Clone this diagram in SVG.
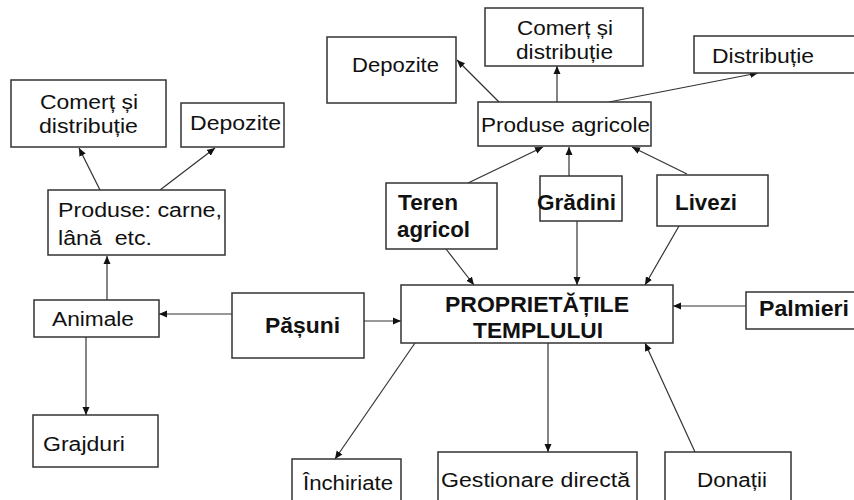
<svg xmlns="http://www.w3.org/2000/svg" width="854" height="500" viewBox="0 0 854 500">
<style>
.b{fill:#fff;stroke:#333;stroke-width:1.5}
.t{font-family:"Liberation Sans",Arial,sans-serif;font-size:20px;fill:#111}
.tb{font-family:"Liberation Sans",Arial,sans-serif;font-size:21.5px;font-weight:bold;fill:#111}
.c line{stroke:#333;stroke-width:1.2;fill:none;marker-end:url(#a)}
</style>
<defs>
<marker id="a" markerUnits="userSpaceOnUse" markerWidth="9" markerHeight="8" refX="8" refY="4" orient="auto">
<path d="M0,0.5 L8,4 L0,7.5 Z" fill="#111"/>
</marker>
</defs>
<rect width="854" height="500" fill="#fff"/>
<g class="c">
<line x1="100" y1="190" x2="79" y2="148"/>
<line x1="160" y1="190" x2="215" y2="148"/>
<line x1="107" y1="300" x2="107" y2="256"/>
<line x1="86" y1="337" x2="86" y2="415"/>
<line x1="232" y1="314" x2="159" y2="314"/>
<line x1="364" y1="321" x2="401" y2="321"/>
<line x1="446" y1="249" x2="474" y2="285"/>
<line x1="577" y1="221" x2="577" y2="285"/>
<line x1="679" y1="226" x2="645" y2="285"/>
<line x1="746" y1="306" x2="673" y2="306"/>
<line x1="468" y1="183" x2="543" y2="147"/>
<line x1="569" y1="176" x2="569" y2="147"/>
<line x1="687" y1="174" x2="632" y2="147"/>
<line x1="499" y1="102" x2="457" y2="60"/>
<line x1="557" y1="102" x2="557" y2="66"/>
<line x1="609" y1="102" x2="758" y2="73"/>
<line x1="415" y1="343" x2="335" y2="459"/>
<line x1="548" y1="343" x2="548" y2="452"/>
<line x1="695" y1="452" x2="645" y2="343"/>
</g>
<g id="comert-left"><rect class="b" x="11" y="80" width="155" height="67"/>
<text class="t" x="40" y="109" textLength="98" lengthAdjust="spacingAndGlyphs">Comerț și</text>
<text class="t" x="39" y="133" textLength="99" lengthAdjust="spacingAndGlyphs">distribuție</text></g>
<g id="depozite-left"><rect class="b" x="181" y="103" width="103" height="44"/>
<text class="t" x="190" y="130" textLength="91" lengthAdjust="spacingAndGlyphs">Depozite</text></g>
<g id="produse-carne"><rect class="b" x="48" y="190" width="177" height="65"/>
<text class="t" x="58" y="217" textLength="164" lengthAdjust="spacingAndGlyphs">Produse: carne,</text>
<text class="t" x="58" y="245" textLength="94" lengthAdjust="spacingAndGlyphs">lână&#160; etc.</text></g>
<g id="animale"><rect class="b" x="34" y="300" width="125" height="37"/>
<text class="t" x="52" y="326" textLength="82" lengthAdjust="spacingAndGlyphs">Animale</text></g>
<g id="grajduri"><rect class="b" x="33" y="415" width="125" height="52"/>
<text class="t" x="43" y="451" textLength="82" lengthAdjust="spacingAndGlyphs">Grajduri</text></g>
<g id="pasuni"><rect class="b" x="232" y="293" width="132" height="65"/>
<text class="tb" x="265" y="333" textLength="75" lengthAdjust="spacingAndGlyphs">Pășuni</text></g>
<g id="proprietati"><rect class="b" x="401" y="285" width="272" height="58"/>
<text class="tb" x="445" y="312" textLength="184" lengthAdjust="spacingAndGlyphs">PROPRIETĂȚILE</text>
<text class="tb" x="473" y="338" textLength="130" lengthAdjust="spacingAndGlyphs">TEMPLULUI</text></g>
<g id="teren"><rect class="b" x="386" y="183" width="111" height="66"/>
<text class="tb" x="398" y="210" textLength="60" lengthAdjust="spacingAndGlyphs">Teren</text>
<text class="tb" x="397" y="237" textLength="73" lengthAdjust="spacingAndGlyphs">agricol</text></g>
<g id="gradini"><rect class="b" x="540" y="176" width="82" height="45"/>
<text class="tb" x="537" y="210" textLength="79" lengthAdjust="spacingAndGlyphs">Grădini</text></g>
<g id="livezi"><rect class="b" x="657" y="175" width="111" height="51"/>
<text class="tb" x="675" y="210" textLength="62" lengthAdjust="spacingAndGlyphs">Livezi</text></g>
<g id="palmieri"><rect class="b" x="746" y="292" width="112" height="37"/>
<text class="tb" x="759" y="316" textLength="90" lengthAdjust="spacingAndGlyphs">Palmieri</text></g>
<g id="produse-agricole"><rect class="b" x="478" y="102" width="173" height="44"/>
<text class="t" x="481" y="132" textLength="169" lengthAdjust="spacingAndGlyphs">Produse agricole</text></g>
<g id="depozite-right"><rect class="b" x="327" y="37" width="129" height="66"/>
<text class="t" x="352" y="72" textLength="87" lengthAdjust="spacingAndGlyphs">Depozite</text></g>
<g id="comert-top"><rect class="b" x="485" y="8" width="158" height="58"/>
<text class="t" x="517" y="35" textLength="96" lengthAdjust="spacingAndGlyphs">Comerț și</text>
<text class="t" x="516" y="59" textLength="97" lengthAdjust="spacingAndGlyphs">distribuție</text></g>
<g id="distributie"><rect class="b" x="694" y="36" width="164" height="37"/>
<text class="t" x="712" y="63" textLength="102" lengthAdjust="spacingAndGlyphs">Distribuție</text></g>
<g id="inchiriate"><rect class="b" x="292" y="459" width="109" height="50"/>
<text class="t" x="303" y="490" textLength="90" lengthAdjust="spacingAndGlyphs">Închiriate</text></g>
<g id="gestionare"><rect class="b" x="438" y="452" width="199" height="57"/>
<text class="t" x="441" y="487" textLength="189" lengthAdjust="spacingAndGlyphs">Gestionare directă</text></g>
<g id="donatii"><rect class="b" x="665" y="452" width="126" height="57"/>
<text class="t" x="697" y="487" textLength="70" lengthAdjust="spacingAndGlyphs">Donații</text></g>
</svg>
